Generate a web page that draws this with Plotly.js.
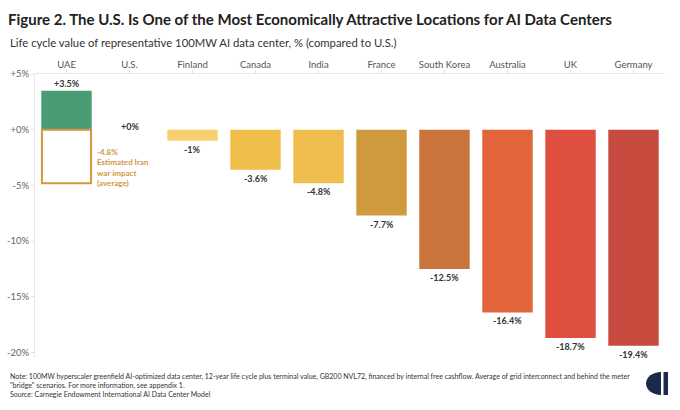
<!DOCTYPE html>
<html><head><meta charset="utf-8">
<script src="https://cdn.plot.ly/plotly-3.0.1.min.js"></script>
<style>body{margin:0;background:#fff}#c{width:680px;height:410px}</style>
</head><body><div id="c"></div>
<script>
const categories = ['UAE','U.S.','Finland','Canada','India','France','South Korea','Australia','UK','Germany'];
const values = [3.5, 0, -1, -3.6, -4.8, -7.7, -12.5, -16.4, -18.7, -19.4];
const valueLabels = ['+3.5%','+0%','-1%','-3.6%','-4.8%','-7.7%','-12.5%','-16.4%','-18.7%','-19.4%'];
const barColors = ['#4a9d72','#ffffff','#f6d06f','#efbe4b','#eebd4d','#cf9a3e','#c9743a','#e1643a','#de4f40','#c64a3e'];
const iranCategory = ['UAE'];
const iranImpact = [-4.8];
const iranLabelLines = ['-4.8%','Estimated Iran','war impact','(average)'];
const yTickVals = [5, 0, -5, -10, -15, -20];
const yTickText = ['+5%','+0%','-5%','-10%','-15%','-20%'];

const W = 680, H = 410, L = 35, R = 15, T = 74, B = 53;
const pw = W - L - R, ph = H - T - B;
const px = x => (x - L) / pw;
const py = y => (H - B - y) / ph;
const FONT = 'Lato, sans-serif';

const traces = [
  {type:'bar', x: categories, y: values, marker:{color: barColors, line:{width:0}}, width:0.8, hoverinfo:'skip'},
  {type:'bar', x: iranCategory, y: iranImpact, marker:{color:'rgba(255,255,255,0)', line:{color:'#d4963f', width:2}}, width:0.78, hoverinfo:'skip'}
];

const annotations = categories.map((c,i) => {
  const v = values[i];
  const yanchor = v > 0 ? 'bottom' : (v < 0 ? 'top' : 'middle');
  const yshift = v > 0 ? 0 : (v < 0 ? -1 : 3);
  return {x:c, y:v, xref:'x', yref:'y', text:'<b>'+valueLabels[i]+'</b>', showarrow:false, yanchor, yshift,
    font:{family:FONT, size:9, color:'#333'}};
});
annotations.push({x:iranCategory[0], y:iranImpact[0], xref:'x', yref:'y',
  text:iranLabelLines.map(t => '<b>'+t+'</b>').join('<br>'), showarrow:false,
  xanchor:'left', yanchor:'middle', xshift:28, yshift:16, align:'left',
  font:{family:FONT, size:8, color:'#d4963f'}});
annotations.push({x:px(8), y:py(42), xref:'paper', yref:'paper', xanchor:'left', yanchor:'middle', showarrow:false,
  text:'Life cycle value of representative 100MW AI data center, % (compared to U.S.)',
  font:{family:FONT, size:11.3, color:'#333'}});
annotations.push({x:px(8), y:py(370), xref:'paper', yref:'paper', xanchor:'left', yanchor:'top', showarrow:false, align:'left',
  text:'Note: 100MW hyperscaler greenfield AI-optimized data center, 12-year life cycle plus terminal value, GB200 NVL72, financed by internal free cashflow. Average of grid interconnect and behind the meter<br>"bridge" scenarios. For more information, see appendix 1.<br>Source: Carnegie Endowment International AI Data Center Model',
  font:{family:FONT, size:7, color:'#333'}});

const k = 0.5523, cx = 661, cyT = 372, cyB = 395, cyM = 383.5, rx = 15, ry = 11.5;
const halfPath = `M ${px(cx)} ${py(cyT)} C ${px(cx - rx*k)} ${py(cyT)} ${px(cx-rx)} ${py(cyM - ry*k)} ${px(cx-rx)} ${py(cyM)} ` +
  `C ${px(cx-rx)} ${py(cyM + ry*k)} ${px(cx - rx*k)} ${py(cyB)} ${px(cx)} ${py(cyB)} Z`;
const shapes = [
  {type:'path', xref:'paper', yref:'paper', path: halfPath, fillcolor:'#1b2a4a', line:{width:0}},
  {type:'rect', xref:'paper', yref:'paper', x0:px(663.5), x1:px(668), y0:py(395), y1:py(372), fillcolor:'#1b2a4a', line:{width:0}}
];

const layout = {
  width: W, height: H,
  margin:{l:L, r:R, t:T, b:B, pad:0},
  paper_bgcolor:'#fff', plot_bgcolor:'#fff',
  barmode:'overlay', showlegend:false,
  font:{family:FONT},
  title:{text:'<b>Figure 2. The U.S. Is One of the Most Economically Attractive Locations for AI Data Centers</b>',
    x:8/W, xanchor:'left', xref:'container', y:1-20/H, yanchor:'middle', yref:'container',
    font:{family:FONT, size:15, color:'#222'}},
  xaxis:{side:'top', type:'category', showgrid:false, zeroline:false, showline:true, linecolor:'#e8e8e8', linewidth:1,
    ticks:'outside', ticklen:3, tickcolor:'#e0e0e0', tickfont:{family:FONT, size:9.5, color:'#555'}, ticklabelstandoff:-2, fixedrange:true},
  yaxis:{range:[-20.4, 5], tickvals:yTickVals, ticktext:yTickText, showgrid:false, zeroline:false, showline:true,
    linecolor:'#e8e8e8', linewidth:1, ticks:'outside', ticklen:3, tickcolor:'#e0e0e0',
    tickfont:{family:FONT, size:9.5, color:'#666'}, fixedrange:true},
  annotations, shapes
};
Plotly.newPlot('c', traces, layout, {displayModeBar:false, staticPlot:true});
</script>
</body></html>
